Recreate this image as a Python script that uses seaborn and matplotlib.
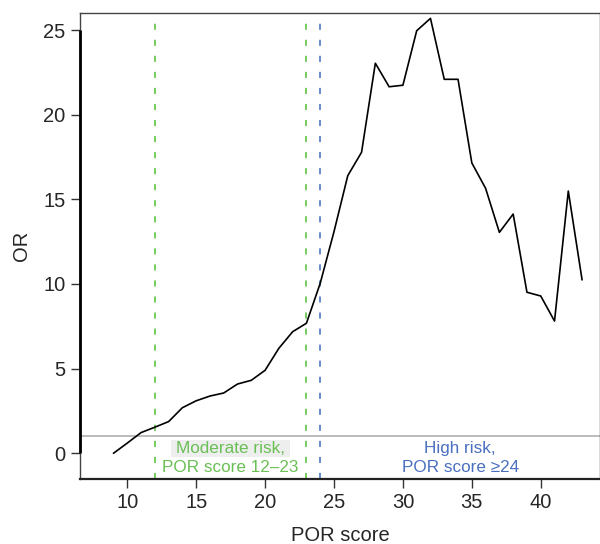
import matplotlib
matplotlib.use("Agg")
import matplotlib.pyplot as plt
from matplotlib.patches import Rectangle
import seaborn as sns

# POR score vs odds ratio
por_score = [9, 10, 11, 12, 13, 14, 15, 16, 17, 18, 19, 20, 21, 22, 23, 24, 25, 26,
             27, 28, 29, 30, 31, 32, 33, 34, 35, 36, 37, 38, 39, 40, 41, 42, 43]
odds_ratio = [0.0, 0.6, 1.22, 1.54, 1.87, 2.69, 3.1, 3.38, 3.56, 4.09, 4.31, 4.9, 6.2, 7.18, 7.68,
              10.04, 13.09, 16.4, 17.78, 23.04, 21.65, 21.74, 24.96, 25.69, 22.09, 22.09,
              17.15, 15.65, 13.05, 14.13, 9.51, 9.29, 7.81, 15.49, 10.24]

moderate_cut = [12, 23]
high_cut = 24
ref_or = 1

green_line = '#4FBF32'
green_text = '#6ABF55'
blue_line = '#3D6CC0'
blue_text = '#4A6FC0'

sns.set_style("white")
plt.rcParams['font.family'] = ['Liberation Sans', 'DejaVu Sans']

fig = plt.figure(figsize=(6, 5.44), dpi=100)
ax = fig.add_axes([0.1333, 0.1195, 0.8667, 0.857])

xlim = (6.57, 44.3)
ylim = (-1.52, 26.02)

ax.axhline(ref_or, color='#AAAAAA', lw=1.1, zorder=1)
ax.vlines(moderate_cut, ylim[0], 25.6, colors=green_line, lw=1.1,
          linestyles=(0, (4.0, 6.5)), zorder=1)
ax.vlines([high_cut], ylim[0], 25.6, colors=blue_line, lw=1.1,
          linestyles=(0, (4.0, 6.5)), zorder=1)

sns.lineplot(x=por_score, y=odds_ratio, color='black', lw=1.2, ax=ax, zorder=3)

ax.set_xlim(*xlim)
ax.set_ylim(*ylim)
ax.set_xticks([10, 15, 20, 25, 30, 35, 40])
ax.set_yticks([0, 5, 10, 15, 20, 25])

# label background for moderate risk
mid = (moderate_cut[0] + moderate_cut[1]) / 2
ax.add_patch(Rectangle((mid - 4.3, -0.2), 8.6, 0.97, facecolor='#EEEEEE',
                       edgecolor='none', zorder=2))
ax.text(mid, 0.27, 'Moderate risk,', color=green_text, fontsize=12.3,
        ha='center', va='center', zorder=4)
ax.text(mid, -0.84, 'POR score 12\u201323', color=green_text, fontsize=12.3,
        ha='center', va='center', zorder=4)
hx = (high_cut + xlim[1]) / 2
ax.text(hx, 0.27, 'High risk,', color=blue_text, fontsize=12.3,
        ha='center', va='center', zorder=4)
ax.text(hx, -0.84, 'POR score \u226524', color=blue_text, fontsize=12.3,
        ha='center', va='center', zorder=4)

for side in ['top', 'right', 'bottom', 'left']:
    ax.spines[side].set_color('#444444')
    ax.spines[side].set_linewidth(1.0)
# thick axis line between first and last tick, R style
ax.plot([xlim[0], xlim[0]], [0, 25], color='black', lw=2.0, clip_on=False,
        solid_capstyle='butt', zorder=5)
ax.spines['bottom'].set_linewidth(1.6)
ax.spines['bottom'].set_color('#222222')

ax.tick_params(axis='both', which='major', length=6.3, width=1.0, color='#333333',
               labelsize=14.5, pad=4, bottom=True, left=True)
ax.set_xlabel('POR score', fontsize=14.5, labelpad=10)
ax.set_ylabel('OR', fontsize=14.5, labelpad=9)

fig.savefig('out.png', dpi=100)
